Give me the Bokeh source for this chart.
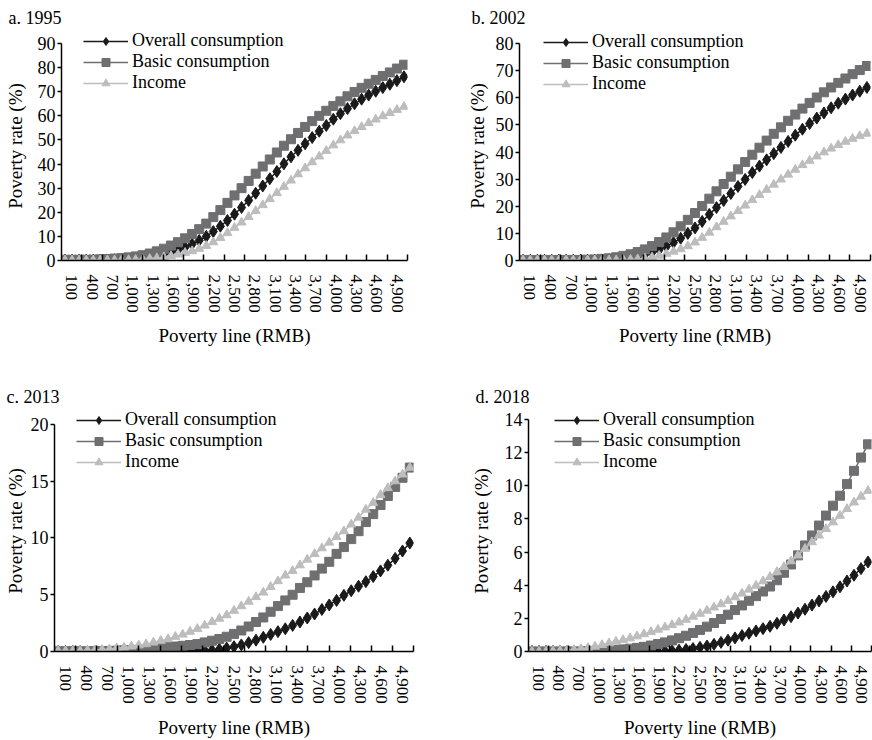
import numpy as np
from bokeh.plotting import figure
from bokeh.layouts import row, column
from bokeh.models import (Range1d, FixedTicker, CustomJSTickFormatter,
                          Legend, LegendItem, ColumnDataSource)
from bokeh.embed import file_html
from bokeh.resources import INLINE

# ---------------- data ----------------
poverty_lines = list(range(100, 5000, 100))  # 100 ... 4,900 RMB (49 categories)
tick_labels = ["100", "400", "700", "1,000", "1,300", "1,600", "1,900", "2,200",
               "2,500", "2,800", "3,100", "3,400", "3,700", "4,000", "4,300",
               "4,600", "4,900"]
series_names = ["Overall consumption", "Basic consumption", "Income"]

overall_1995 = [0.1, 0.1, 0.1, 0.1, 0.1, 0.2, 0.2, 0.3, 0.4, 0.5,
                0.7, 1.0, 1.4, 2.0, 2.7, 3.5, 4.4, 5.5, 6.8, 8.3,
                10.0, 12.0, 14.2, 16.6, 19.2, 22.0, 24.9, 27.9, 30.9, 33.9,
                36.9, 40.1, 43.0, 45.7, 48.4, 51.0, 53.6, 56.0, 58.6, 60.9,
                63.0, 65.0, 66.9, 68.6, 70.2, 71.7, 73.1, 74.6, 76.2]
basic_1995 = [0.3, 0.3, 0.3, 0.3, 0.4, 0.5, 0.6, 0.8, 1.0, 1.3,
              1.7, 2.2, 2.9, 3.8, 4.9, 6.2, 7.6, 9.2, 11.0, 13.0,
              15.3, 18.0, 20.9, 23.9, 27.0, 30.0, 33.0, 36.0, 39.0, 41.9,
              44.8, 47.6, 50.3, 52.9, 55.4, 57.8, 60.0, 62.1, 64.1, 66.0,
              68.1, 69.9, 71.6, 73.3, 74.9, 76.5, 78.0, 79.6, 81.2]
income_1995 = [0.1, 0.1, 0.1, 0.1, 0.1, 0.1, 0.1, 0.1, 0.2, 0.2,
               0.3, 0.5, 0.7, 1.0, 1.4, 1.9, 2.5, 3.2, 3.9, 4.9,
               6.1, 7.6, 9.4, 11.4, 13.6, 15.8, 18.1, 20.6, 23.0, 25.5,
               28.0, 30.6, 33.2, 35.8, 38.3, 40.8, 43.2, 45.5, 47.8, 49.9,
               51.9, 53.7, 55.4, 57.0, 58.5, 59.9, 61.2, 62.5, 63.8]

overall_2002 = [0.1, 0.1, 0.1, 0.1, 0.1, 0.1, 0.1, 0.1, 0.1, 0.1,
                0.1, 0.2, 0.3, 0.5, 0.8, 1.1, 1.5, 2.2, 3.0, 4.0,
                5.2, 6.6, 8.2, 10.0, 12.0, 14.4, 17.0, 19.5, 22.1, 24.7,
                27.3, 29.9, 32.4, 34.8, 37.1, 39.4, 41.7, 43.9, 46.2, 48.4,
                50.5, 52.5, 54.4, 56.3, 58.0, 59.5, 61.0, 62.4, 63.8]
basic_2002 = [0.2, 0.2, 0.2, 0.2, 0.2, 0.2, 0.2, 0.2, 0.2, 0.3,
              0.4, 0.6, 0.8, 1.2, 1.7, 2.3, 3.1, 4.1, 5.3, 6.8,
              8.5, 10.4, 12.6, 15.0, 17.5, 20.1, 22.8, 25.5, 28.2, 30.9,
              33.6, 36.3, 39.0, 41.6, 44.2, 46.7, 49.1, 51.5, 53.8, 56.0,
              58.1, 60.1, 62.0, 63.8, 65.5, 67.1, 68.7, 70.2, 71.7]
income_2002 = [0.1, 0.1, 0.1, 0.1, 0.1, 0.1, 0.1, 0.1, 0.1, 0.1,
               0.1, 0.1, 0.1, 0.1, 0.2, 0.3, 0.5, 0.8, 1.2, 1.8,
               2.5, 3.3, 4.2, 5.3, 6.7, 8.4, 10.3, 12.3, 14.3, 16.3,
               18.3, 20.3, 22.3, 24.2, 26.1, 28.0, 29.9, 31.7, 33.5, 35.2,
               36.8, 38.4, 39.9, 41.3, 42.6, 43.8, 44.9, 45.9, 46.8]

overall_2013 = [0.0, 0.0, 0.0, 0.0, 0.0, 0.0, 0.0, 0.0, 0.0, 0.0,
                0.0, 0.0, 0.0, 0.0, 0.0, 0.0, 0.0, 0.0, 0.02, 0.05,
                0.08, 0.12, 0.2, 0.3, 0.42, 0.58, 0.78, 1.0, 1.25, 1.5,
                1.75, 2.0, 2.3, 2.6, 2.95, 3.3, 3.7, 4.1, 4.5, 4.95,
                5.35, 5.75, 6.15, 6.6, 7.1, 7.6, 8.2, 8.85, 9.55]
basic_2013 = [0.02, 0.02, 0.02, 0.02, 0.02, 0.02, 0.03, 0.05, 0.07, 0.1,
              0.12, 0.15, 0.2, 0.25, 0.32, 0.38, 0.44, 0.5, 0.57, 0.65,
              0.8, 0.95, 1.1, 1.3, 1.55, 1.85, 2.2, 2.6, 3.0, 3.5,
              4.0, 4.5, 5.0, 5.6, 6.1, 6.7, 7.3, 7.9, 8.6, 9.2,
              9.9, 10.6, 11.4, 12.1, 12.9, 13.7, 14.5, 15.3, 16.2]
income_2013 = [0.05, 0.05, 0.05, 0.05, 0.1, 0.1, 0.15, 0.2, 0.3, 0.35,
               0.45, 0.55, 0.65, 0.8, 0.95, 1.1, 1.3, 1.5, 1.75, 2.0,
               2.3, 2.6, 2.9, 3.2, 3.6, 4.0, 4.4, 4.8, 5.2, 5.7,
               6.2, 6.7, 7.1, 7.6, 8.1, 8.6, 9.1, 9.6, 10.1, 10.6,
               11.2, 11.8, 12.5, 13.1, 13.8, 14.4, 15.0, 15.6, 16.2]

overall_2018 = [0.0, 0.0, 0.0, 0.0, 0.0, 0.0, 0.0, 0.0, 0.0, 0.0,
                0.0, 0.0, 0.0, 0.0, 0.0, 0.0, 0.0, 0.0, 0.0, 0.02,
                0.05, 0.08, 0.12, 0.18, 0.25, 0.33, 0.43, 0.55, 0.68, 0.82,
                0.96, 1.1, 1.24, 1.38, 1.52, 1.7, 1.9, 2.1, 2.32, 2.55,
                2.8, 3.05, 3.32, 3.6, 3.9, 4.25, 4.6, 5.0, 5.4]
basic_2018 = [0.0, 0.0, 0.0, 0.0, 0.0, 0.0, 0.0, 0.0, 0.02, 0.04,
              0.06, 0.08, 0.1, 0.13, 0.17, 0.22, 0.28, 0.36, 0.45, 0.55,
              0.67, 0.8, 0.95, 1.12, 1.3, 1.5, 1.72, 1.96, 2.22, 2.5,
              2.78, 3.06, 3.34, 3.62, 3.92, 4.3, 4.75, 5.25, 5.8, 6.4,
              7.0, 7.6, 8.2, 8.8, 9.4, 10.1, 10.9, 11.7, 12.5]
income_2018 = [0.0, 0.0, 0.0, 0.02, 0.04, 0.06, 0.1, 0.15, 0.22, 0.3,
               0.4, 0.5, 0.6, 0.7, 0.8, 0.92, 1.05, 1.18, 1.32, 1.46,
               1.6, 1.76, 1.92, 2.1, 2.28, 2.47, 2.66, 2.86, 3.06, 3.28,
               3.5, 3.74, 3.98, 4.24, 4.5, 4.8, 5.1, 5.45, 5.8, 6.2,
               6.6, 7.0, 7.4, 7.8, 8.2, 8.6, 9.0, 9.35, 9.7]

panel_titles = ["a. 1995", "b. 2002", "c. 2013", "d. 2018"]
y_ticks_a = [0, 10, 20, 30, 40, 50, 60, 70, 80, 90]
y_ticks_b = [0, 10, 20, 30, 40, 50, 60, 70, 80]
y_ticks_c = [0, 5, 10, 15, 20]
y_ticks_d = [0, 2, 4, 6, 8, 10, 12, 14]
y_title = "Poverty rate (%)"
x_title = "Poverty line (RMB)"

# ---------------- styling ----------------
FONT = "Liberation Serif"
COLORS = ["#1a1a1a", "#6f6f71", "#bdbdbd"]
MARKERS = [("diamond", 12), ("square", 9), ("triangle", 9)]

half = (poverty_lines[1] - poverty_lines[0]) / 2
x_lo, x_hi = poverty_lines[0] - half, poverty_lines[-1] + half
n_int = len(tick_labels)
step = (x_hi - x_lo) / n_int
tick_bounds = [x_lo + k * step for k in range(1, n_int + 1)]
tick_mids = [x_lo + (k + 0.5) * step for k in range(n_int)]

LEG_ROW = 20


def make_panel(title, yticks, data, g):
    W, H = g["W"], g["H"]
    bl = g["L"] - g["fx"]
    br = g["fx"] + W - g["R"]
    bt = g["ftop"] - g["fy"]
    bb = g["fy"] + H - g["B"]
    px_per_unit = (g["B"] - g["ttop"]) / (yticks[-1] - yticks[0])
    y_hi = yticks[-1] + (g["ttop"] - g["ftop"]) / px_per_unit

    p = figure(width=W, height=H, x_range=Range1d(x_lo, x_hi),
               y_range=Range1d(yticks[0], y_hi), title=title,
               output_backend="svg", toolbar_location=None,
               min_border_left=bl, min_border_right=br,
               min_border_top=bt, min_border_bottom=bb)
    p.outline_line_color = None
    p.xgrid.visible = False
    p.ygrid.visible = False
    p.background_fill_color = "white"
    p.border_fill_color = "white"

    p.title.align = "left"
    p.title.offset = g["tx"] - g["L"]
    p.title.standoff = g["ts"]
    p.title.text_font = FONT
    p.title.text_font_size = "18px"
    p.title.text_font_style = "normal"
    p.title.text_color = "black"

    # x axis
    xa = p.xaxis[0]
    xa.ticker = FixedTicker(ticks=tick_mids, minor_ticks=tick_bounds)
    xa.formatter = CustomJSTickFormatter(args=dict(labels=tick_labels),
                                         code="return labels[index];")
    xa.major_tick_in = 0
    xa.major_tick_out = 0
    xa.minor_tick_in = 6
    xa.minor_tick_out = 0
    xa.minor_tick_line_color = "black"
    xa.minor_tick_line_width = 1.5
    xa.axis_line_color = "black"
    xa.axis_line_width = 1.5
    xa.major_label_orientation = "vertical"
    xa.major_label_standoff = 14
    xa.major_label_text_font = FONT
    xa.major_label_text_font_size = "17px"
    xa.major_label_text_color = "black"
    xa.axis_label = x_title
    xa.axis_label_standoff = g["xs"]
    xa.axis_label_text_font = FONT
    xa.axis_label_text_font_size = "19px"
    xa.axis_label_text_font_style = "normal"
    xa.axis_label_text_color = "black"

    # y axis
    ya = p.yaxis[0]
    ya.ticker = FixedTicker(ticks=yticks)
    ya.bounds = (yticks[0], yticks[-1])
    ya.major_tick_in = 0
    ya.major_tick_out = 4
    ya.major_tick_line_color = "black"
    ya.major_tick_line_width = 1.5
    ya.minor_tick_line_color = None
    ya.axis_line_color = "black"
    ya.axis_line_width = 1.5
    ya.major_label_standoff = 2
    ya.major_label_text_font = FONT
    ya.major_label_text_font_size = "18px"
    ya.major_label_text_color = "black"
    ya.axis_label = y_title
    ya.axis_label_standoff = g["ys"]
    ya.axis_label_text_font = FONT
    ya.axis_label_text_font_size = "19px"
    ya.axis_label_text_font_style = "normal"
    ya.axis_label_text_color = "black"

    items = []
    for name, vals, color, (mk, sz) in zip(series_names, data, COLORS, MARKERS):
        src = ColumnDataSource(dict(x=poverty_lines, y=vals))
        ln = p.line("x", "y", source=src, line_color=color, line_width=1.5)
        sc = p.scatter("x", "y", source=src, marker=mk, size=sz,
                       fill_color=color, line_color=color)
        items.append(LegendItem(label=name, renderers=[ln, sc]))

    legend = Legend(items=items,
                    location=(g["lx"] - g["L"],
                              g["B"] - g["ltop"] - LEG_ROW * len(items)),
                    padding=0, spacing=0, margin=0,
                    glyph_width=45, glyph_height=LEG_ROW,
                    label_height=LEG_ROW, label_standoff=4,
                    label_text_font=FONT, label_text_font_size="18px",
                    label_text_color="black",
                    border_line_color=None, background_fill_alpha=0)
    p.add_layout(legend)
    return p


# geometry in page pixels (plots in one row share frame top and bottom):
# figure origin (fx, fy), size W x H, frame left/right, y of top tick, frame top,
# frame bottom; title x & standoff; axis label standoffs; legend left and top edges.
geo_a = dict(fx=0, fy=0, W=436, H=370, L=61, R=407, ttop=43, ftop=31, B=260,
             tx=8, ts=8, ys=9, xs=9, lx=83, ltop=33.3)
geo_b = dict(fx=436, fy=0, W=436, H=370, L=519, R=870, ttop=43, ftop=31, B=260,
             tx=471, ts=8, ys=5, xs=9, lx=543, ltop=34.3)
geo_c = dict(fx=0, fy=370, W=436, H=370, L=54, R=413, ttop=424, ftop=410, B=652,
             tx=6, ts=8, ys=2, xs=10, lx=76, ltop=413.3)
geo_d = dict(fx=436, fy=370, W=436, H=370, L=528, R=871, ttop=419, ftop=410, B=652,
             tx=475, ts=7, ys=10, xs=10, lx=554, ltop=413.3)

pa = make_panel(panel_titles[0], y_ticks_a, [overall_1995, basic_1995, income_1995], geo_a)
pb = make_panel(panel_titles[1], y_ticks_b, [overall_2002, basic_2002, income_2002], geo_b)
pc = make_panel(panel_titles[2], y_ticks_c, [overall_2013, basic_2013, income_2013], geo_c)
pd_ = make_panel(panel_titles[3], y_ticks_d, [overall_2018, basic_2018, income_2018], geo_d)

layout = column(row(pa, pb, spacing=0), row(pc, pd_, spacing=0), spacing=0)

open("out.html", "w").write(file_html(layout, INLINE))
